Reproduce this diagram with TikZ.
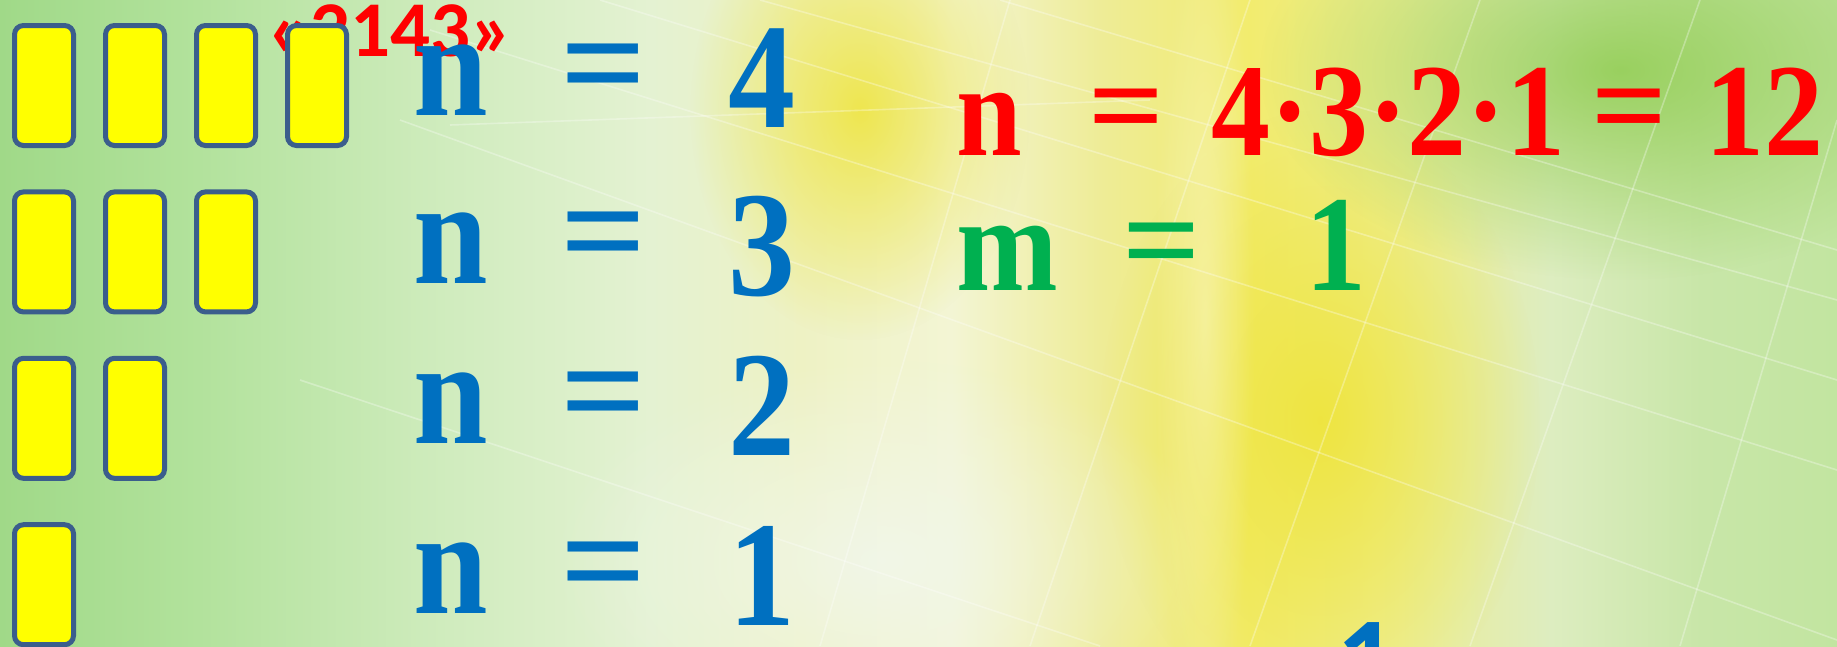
\documentclass[tikz,border=0pt]{standalone}
\usepackage{fontspec}
\setmainfont{Liberation Serif}
\newfontfamily\calibri{Carlito}
\usetikzlibrary{fadings}
\definecolor{CardFill}{HTML}{FFFF00}
\definecolor{CardLine}{HTML}{3B5E8C}
\definecolor{NBlue}{HTML}{0070C0}
\definecolor{NRed}{HTML}{FF0000}
\definecolor{NGreen}{HTML}{00B050}
\definecolor{BgYellow}{HTML}{EEE43A}
\definecolor{BgGreen}{HTML}{8FCC50}
\definecolor{BgPale}{HTML}{F1F7EE}
\newcommand{\tallbox}[1]{\scalebox{1}[1.12]{#1}}
\newcommand{\eqbox}{\scalebox{1.13}[1.08]{=}}
\tikzfading[name=softblob, inner color=transparent!0, outer color=transparent!100]
\pgfdeclarehorizontalshading{bgshade}{100bp}{%
  color(0bp)=(rgb,255:red,160;green,217;blue,136);
  color(25bp)=(rgb,255:red,160;green,217;blue,136);
  color(30.4bp)=(rgb,255:red,178;green,226;blue,156);
  color(37.2bp)=(rgb,255:red,208;green,236;blue,190);
  color(42.7bp)=(rgb,255:red,228;green,242;blue,210);
  color(46.8bp)=(rgb,255:red,238;green,242;blue,196);
  color(50.9bp)=(rgb,255:red,243;green,245;blue,212);
  color(55bp)=(rgb,255:red,238;green,236;blue,150);
  color(59bp)=(rgb,255:red,242;green,236;blue,110);
  color(63.1bp)=(rgb,255:red,237;green,238;blue,150);
  color(67.2bp)=(rgb,255:red,221;green,237;blue,192);
  color(71.3bp)=(rgb,255:red,200;green,230;blue,168);
  color(75bp)=(rgb,255:red,194;green,229;blue,160);
  color(100bp)=(rgb,255:red,194;green,229;blue,160)}

\begin{document}
\begin{tikzpicture}[x=1pt,y=-1pt,
    card/.style={draw=CardLine,line width=5pt,rounded corners=9pt,fill=CardFill,minimum width=59pt,minimum height=120pt,inner sep=0pt},
    bluenum/.style={inner sep=0pt,text=NBlue,font={\fontsize{134}{134}\selectfont\bfseries}},
    rednum/.style={inner sep=0pt,text=NRed,font={\fontsize{118}{118}\selectfont\bfseries}},
    greennum/.style={inner sep=0pt,text=NGreen,font={\fontsize{122}{122}\selectfont\bfseries}},
    codetext/.style={inner sep=0pt,text=NRed,font={\calibri\fontsize{79}{79}\selectfont\bfseries}},
    partone/.style={inner sep=0pt,text=NBlue,font={\calibri\fontsize{120}{120}\selectfont\bfseries}},
    bgline/.style={draw=white,opacity=0.3,line width=1.6pt}
  ]
    \useasboundingbox (0,0) rectangle (1837,646);
    \clip (0,0) rectangle (1837,646);
    % background
    \shade[shading=bgshade] (0,0) rectangle (1837,646);
    \fill[BgYellow,opacity=0.85,path fading=softblob] (860,110) ellipse (170 and 230);
    \fill[BgYellow,opacity=0.9,path fading=softblob] (1320,420) ellipse (220 and 310);
    \fill[BgGreen,opacity=0.85,path fading=softblob] (1620,70) ellipse (360 and 210);
    \fill[BgPale,opacity=0.8,path fading=softblob] (880,560) ellipse (330 and 200);
    \fill[white,opacity=0.35,path fading=softblob] (1205,320) ellipse (50 and 420);
    \draw[bgline] (430,30) -- (1837,470);
    \draw[bgline] (600,0) -- (1837,380);
    \draw[bgline] (760,0) -- (1837,300);
    \draw[bgline] (400,120) -- (1837,640);
    \draw[bgline] (1000,0) -- (1837,250);
    \draw[bgline] (300,380) -- (1100,646);
    \draw[bgline] (450,125) -- (1150,100);
    \draw[bgline] (1480,0) -- (1250,646);
    \draw[bgline] (1700,0) -- (1470,646);
    \draw[bgline] (1837,120) -- (1680,646);
    \draw[bgline] (1250,0) -- (1030,646);
    \draw[bgline] (1010,0) -- (820,646);

    % code word behind the cards
    \node[codetext,anchor=base west] (code) at (268,56) {«2143»};

    % cards
    \foreach \row/\cnt in {1/4,2/3,3/2,4/1}
      \foreach \i in {1,...,\cnt}
        \node[card] (c\row\i) at ({44+91*(\i-1)},{85.5+166.4*(\row-1)}) {};

    % n = ...
    \foreach \row/\val/\yb in {1/4/115,2/3/283,3/2/443,4/1/613} {
      \node[bluenum,anchor=base west] (n\row) at (413,\yb) {\tallbox{n}};
      \node[bluenum] (e\row) at (603.5,\yb-37) {\eqbox};
      \node[bluenum,anchor=base] (v\row) at (762,\yb+12) {\tallbox{\val}};
    }

    % result
    \node[rednum,anchor=base west] (rn) at (956,155) {\tallbox{n}};
    \node[rednum] (req1) at (1126,119) {\eqbox};
    \node[rednum,anchor=base west] (prod) at (1211,155) {\tallbox{4·3·2·1}};
    \node[rednum] (req2) at (1629,119) {\eqbox};
    \node[rednum,anchor=base east] (res) at (1824,155) {\tallbox{12}};

    \node[greennum,anchor=base west] (gm) at (956,290) {\tallbox{m}};
    \node[greennum] (geq) at (1162,254) {\eqbox};
    \node[greennum,anchor=base] (gv) at (1336,290) {\tallbox{1}};

    \node[partone,anchor=north] (extra) at (1367,622) {1};
  \end{tikzpicture}
\end{document}
